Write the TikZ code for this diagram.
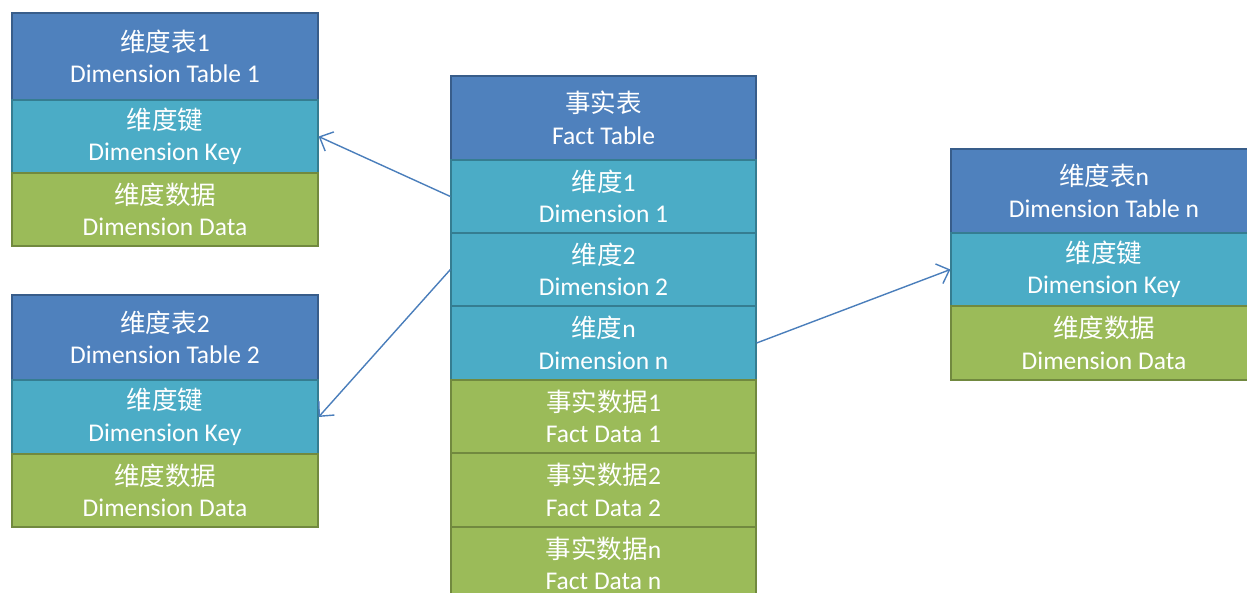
\documentclass[tikz,border=0pt]{standalone}
\usepackage{fontspec}
\setmainfont{Carlito}
\newfontfamily\cjk{Noto Sans CJK SC}
\usetikzlibrary{arrows.meta}
\newcommand{\zh}[1]{{\cjk #1}}
\definecolor{hdrc}{HTML}{4F81BD}
\definecolor{hdrb}{HTML}{385D8A}
\definecolor{keyc}{HTML}{4BACC6}
\definecolor{keyb}{HTML}{357D91}
\definecolor{datc}{HTML}{9BBB59}
\definecolor{datb}{HTML}{71893F}
\definecolor{arrc}{HTML}{4A7EBB}
\tikzset{
  cell/.style={rectangle, minimum width=306pt, text=white, align=center, inner sep=0pt, line width=1.2pt,
    font=\fontsize{25.5}{31.5}\selectfont},
  hdrcell/.style={cell, fill=hdrc, draw=hdrb},
  keycell/.style={cell, fill=keyc, draw=keyb},
  datcell/.style={cell, fill=datc, draw=datb},
  link/.style={draw=arrc, line width=1.4pt, -{Straight Barb[length=11pt,width=21pt,line width=1.4pt]}},
}
\begin{document}
\begin{tikzpicture}[x=1pt,y=-1pt]
\useasboundingbox (0,0) rectangle (1247,593);
% Table 1
\node[hdrcell, minimum height=87pt] (t1h) at (165,56.5) {\zh{维度表}1\\Dimension Table 1};
\node[keycell, minimum height=73pt] (t1k) at (165,136.5) {\zh{维度键}\\Dimension Key};
\node[datcell, minimum height=73pt] (t1d) at (165,209.5) {\zh{维度数据}\\Dimension Data};
% Table 2
\node[hdrcell, minimum height=85pt] (t2h) at (165,337.5) {\zh{维度表}2\\Dimension Table 2};
\node[keycell, minimum height=74pt] (t2k) at (165,417) {\zh{维度键}\\Dimension Key};
\node[datcell, minimum height=73pt] (t2d) at (165,490.5) {\zh{维度数据}\\Dimension Data};
% Fact table
\node[hdrcell, minimum width=305pt, minimum height=84pt] (fh) at (603.5,118) {\zh{事实表}\\Fact Table};
\node[keycell, minimum width=305pt, minimum height=73pt] (d1) at (603.5,196.5) {\zh{维度}1\\Dimension 1};
\node[keycell, minimum width=305pt, minimum height=73pt] (d2) at (603.5,269.5) {\zh{维度}2\\Dimension 2};
\node[keycell, minimum width=305pt, minimum height=74pt] (dn) at (603.5,343) {\zh{维度}n\\Dimension n};
\node[datcell, minimum width=305pt, minimum height=73pt] (f1) at (603.5,416.5) {\zh{事实数据}1\\Fact Data 1};
\node[datcell, minimum width=305pt, minimum height=74pt] (f2) at (603.5,490) {\zh{事实数据}2\\Fact Data 2};
\node[datcell, minimum width=305pt, minimum height=73pt] (fn) at (603.5,563.5) {\zh{事实数据}n\\Fact Data n};
% Table n
\node[hdrcell, minimum height=84pt] (rh) at (1104,191) {\zh{维度表}n\\Dimension Table n};
\node[keycell, minimum height=73pt] (rk) at (1104,269.5) {\zh{维度键}\\Dimension Key};
\node[datcell, minimum height=74pt] (rd) at (1104,343) {\zh{维度数据}\\Dimension Data};
% Links
\draw[link] (d1.west) -- (t1k.east);
\draw[link] (d2.west) -- (t2k.east);
\draw[link] (dn.east) -- (rk.west);
\end{tikzpicture}
\end{document}
